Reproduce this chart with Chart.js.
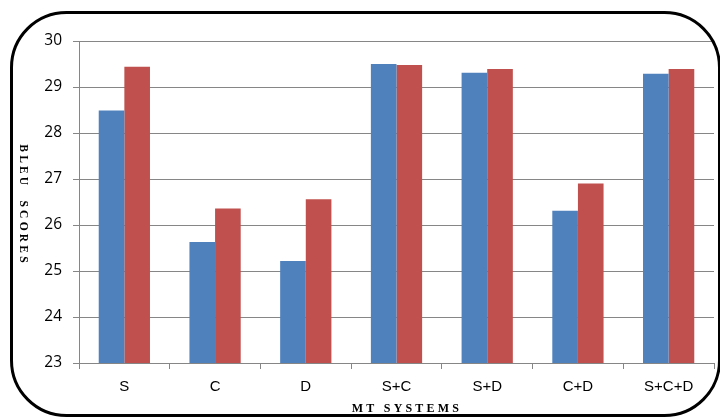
<!DOCTYPE html>
<html>
<head>
<meta charset="utf-8">
<script src="https://cdn.jsdelivr.net/npm/chart.js@4/dist/chart.umd.min.js"></script>
<style>
  html, body { margin: 0; padding: 0; background: #ffffff; }
  #wrap { width: 720px; height: 419px; position: relative; }
</style>
</head>
<body>
<div id="wrap"><canvas id="c" width="720" height="419"></canvas></div>
<script>
// MT system combinations and their BLEU scores
const systems = ['S', 'C', 'D', 'S+C', 'S+D', 'C+D', 'S+C+D'];
const bleuBlue = [28.49, 25.63, 25.22, 29.50, 29.31, 26.31, 29.29];
const bleuRed  = [29.44, 26.36, 26.56, 29.48, 29.39, 26.90, 29.39];
const yTicks = [23, 24, 25, 26, 27, 28, 29, 30];

const xTitle = 'MT SYSTEMS';
const yTitle = 'BLEU  SCORES';

// Frame with rounded corners plus the two axis titles in spaced serif capitals
const decorations = {
  id: 'decorations',
  afterDraw(chart) {
    const ctx = chart.ctx;
    ctx.save();
    ctx.lineWidth = 3;
    ctx.strokeStyle = '#000000';
    ctx.beginPath();
    ctx.roundRect(11.5, 12.5, 708, 403, 55);
    ctx.stroke();

    ctx.fillStyle = '#000000';
    ctx.font = 'bold 12px "Liberation Serif", "DejaVu Serif", serif';
    ctx.textAlign = 'center';
    ctx.textBaseline = 'middle';
    ctx.letterSpacing = '3.2px';
    ctx.fillText(xTitle, 407, 409);

    ctx.font = 'bold 11.5px "Liberation Serif", "DejaVu Serif", serif';
    ctx.translate(23, 205);
    ctx.rotate(Math.PI / 2);
    ctx.fillText(yTitle, 0, 0);
    ctx.restore();
  }
};

new Chart(document.getElementById('c'), {
  type: 'bar',
  data: {
    labels: systems,
    datasets: [
      { data: bleuBlue, backgroundColor: '#4F81BD', borderWidth: 0 },
      { data: bleuRed,  backgroundColor: '#C0504D', borderWidth: 0 }
    ]
  },
  options: {
    responsive: false,
    animation: false,
    devicePixelRatio: 1,
    layout: { padding: { left: 0, right: 6, top: 41, bottom: 0 } },
    datasets: { bar: { categoryPercentage: 0.565, barPercentage: 1.0 } },
    plugins: { legend: { display: false }, tooltip: { enabled: false } },
    scales: {
      x: {
        grid: { offset: true, drawOnChartArea: false, color: '#868686', tickLength: 6 },
        border: { color: '#868686' },
        ticks: { color: '#000000', font: { family: '"Liberation Sans", Arial, sans-serif', size: 15 }, padding: 9 },
        afterFit(scale) { scale.height = 56; }
      },
      y: {
        min: 23, max: 30,
        afterBuildTicks(scale) { scale.ticks = yTicks.map(v => ({ value: v })); },
        grid: { color: '#868686', tickLength: 6 },
        border: { color: '#868686' },
        ticks: { color: '#000000', font: { family: '"Open Sans", "Liberation Sans", sans-serif', size: 15.5 }, padding: 11 },
        afterFit(scale) { scale.width = 79; }
      }
    }
  },
  plugins: [decorations]
});
</script>
</body>
</html>
